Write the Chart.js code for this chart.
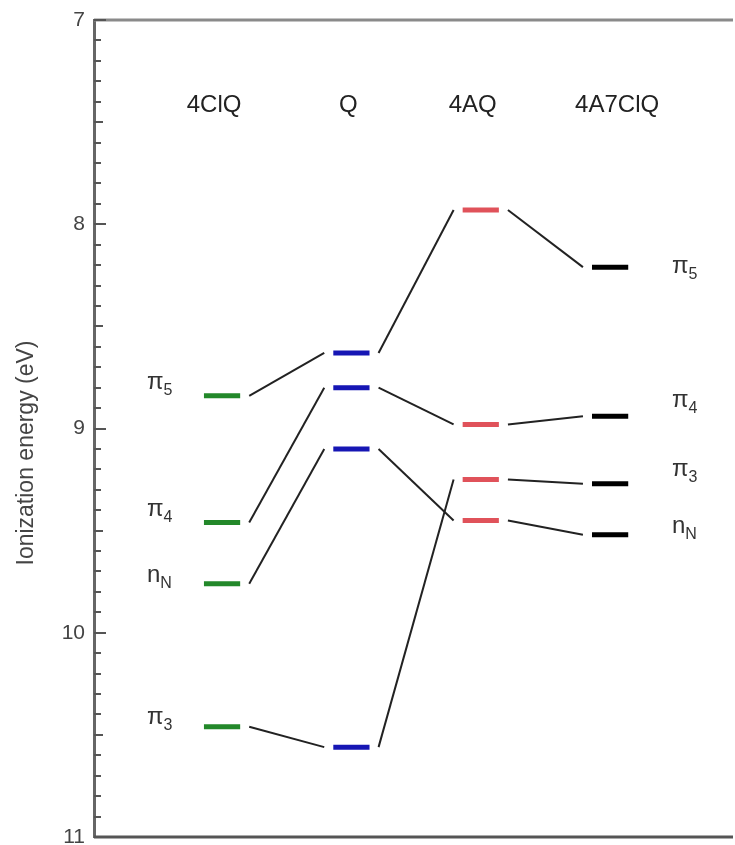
<!DOCTYPE html>
<html>
<head>
<meta charset="utf-8">
<script src="https://cdn.jsdelivr.net/npm/chart.js@4"></script>
<style>
  body { margin: 0; background: #fff; }
  canvas { display: block; }
</style>
</head>
<body>
<canvas id="grafico" width="735" height="845"></canvas>
<script>
// Moléculas (colunas) e energias dos orbitais (eV)
const moleculas = ['4ClQ', 'Q', '4AQ', '4A7ClQ'];
const energia4ClQ = [8.84, 9.46, 9.76, 10.46];
const energiaQ = [8.63, 8.80, 9.10, 10.56];
const energia4AQ = [7.93, 8.98, 9.25, 9.45];
const energia4A7ClQ = [8.21, 8.94, 9.27, 9.52];

// Correlações entre colunas vizinhas: [índice na coluna da esquerda, índice na da direita]
const ligacoes4ClQ_Q = [[0, 0], [1, 1], [2, 2], [3, 3]];
const ligacoesQ_4AQ = [[0, 0], [1, 1], [2, 3], [3, 2]];
const ligacoes4AQ_4A7ClQ = [[0, 0], [1, 1], [2, 2], [3, 3]];

// Rótulos dos orbitais (esquerda = 4ClQ, direita = 4A7ClQ)
const orbitaisEsquerda = ['π5', 'π4', 'nN', 'π3'];
const orbitaisDireita = ['π5', 'π4', 'π3', 'nN'];

// Ticks do eixo y
const yMin = 7;
const yMax = 11;
const tituloY = 'Ionization energy (eV)';

const cores = ['#23882a', '#1616b4', '#e0525a', '#000000'];
const energias = [energia4ClQ, energiaQ, energia4AQ, energia4A7ClQ];
const ligacoes = [ligacoes4ClQ_Q, ligacoesQ_4AQ, ligacoes4AQ_4A7ClQ];

const meiaLargura = 0.14;
const folga = 0.07;
const fonte = '"Liberation Sans", Arial, sans-serif';

let datasets = [];

// níveis de energia: um dataset por molécula, segmentos separados por null
energias.forEach((lista, i) => {
    let pontos = [];
    lista.forEach(v => {
        pontos.push({ x: i + 1 - meiaLargura, y: v });
        pontos.push({ x: i + 1 + meiaLargura, y: v });
        pontos.push({ x: i + 1, y: null });
    });
    datasets.push({
        label: moleculas[i],
        data: pontos,
        borderColor: cores[i],
        borderWidth: 5,
        pointRadius: 0,
        spanGaps: false
    });
});

// linhas de correlação
ligacoes.forEach((pares, i) => {
    pares.forEach(([a, b]) => {
        datasets.push({
            label: 'ligacao',
            data: [
                { x: i + 1 + meiaLargura + folga, y: energias[i][a] },
                { x: i + 2 - meiaLargura - folga, y: energias[i + 1][b] }
            ],
            borderColor: '#222',
            borderWidth: 2,
            pointRadius: 0
        });
    });
});

function desenhaOrbital(ctx, texto, x, y) {
    const base = texto[0];
    const sub = texto.slice(1);
    ctx.font = '24px ' + fonte;
    ctx.textAlign = 'left';
    ctx.textBaseline = 'middle';
    ctx.fillStyle = '#333';
    const w = ctx.measureText(base).width;
    ctx.fillText(base, x, y);
    ctx.font = '16px ' + fonte;
    ctx.fillText(sub, x + w, y + 8);
}

const extras = {
    id: 'extras',
    afterDraw(chart) {
        const ctx = chart.ctx;
        const area = chart.chartArea;
        const sx = chart.scales.x;
        const sy = chart.scales.y;
        ctx.save();

        // moldura superior e inferior
        ctx.lineWidth = 3;
        ctx.strokeStyle = '#8a8a8a';
        ctx.beginPath();
        ctx.moveTo(area.left, area.top);
        ctx.lineTo(area.right, area.top);
        ctx.stroke();
        ctx.strokeStyle = '#555';
        ctx.beginPath();
        ctx.moveTo(area.left, area.bottom);
        ctx.lineTo(area.right, area.bottom);
        ctx.stroke();

        // ticks internos no eixo y
        ctx.strokeStyle = '#555';
        ctx.lineWidth = 2;
        sy.ticks.forEach(t => {
            const d = Math.round(t.value * 10);
            let comp = 7;
            if (d % 10 === 0) comp = 12;
            else if (d % 5 === 0) comp = 9;
            const py = Math.round(sy.getPixelForValue(t.value));
            ctx.beginPath();
            ctx.moveTo(area.left, py);
            ctx.lineTo(area.left + comp, py);
            ctx.stroke();
        });

        // título do eixo y
        ctx.save();
        ctx.translate(27, 453);
        ctx.rotate(-Math.PI / 2);
        ctx.font = '23px ' + fonte;
        ctx.fillStyle = '#444';
        ctx.textAlign = 'center';
        ctx.textBaseline = 'middle';
        ctx.fillText(tituloY, 0, 0);
        ctx.restore();

        // nomes das moléculas
        const desloc = [-8, -3, -8, 7];
        ctx.font = '24px ' + fonte;
        ctx.fillStyle = '#222';
        ctx.textAlign = 'center';
        ctx.textBaseline = 'middle';
        moleculas.forEach((m, i) => {
            ctx.fillText(m, sx.getPixelForValue(i + 1) + desloc[i], 105);
        });

        // rótulos dos orbitais
        const dyEsq = [-13, -13, -8, -9];
        orbitaisEsquerda.forEach((o, i) => {
            desenhaOrbital(ctx, o, 147, sy.getPixelForValue(energia4ClQ[i]) + dyEsq[i]);
        });
        const dyDir = [-1, -16, -14, -8];
        orbitaisDireita.forEach((o, i) => {
            desenhaOrbital(ctx, o, 672, sy.getPixelForValue(energia4A7ClQ[i]) + dyDir[i]);
        });

        ctx.restore();
    }
};

new Chart(document.getElementById('grafico'), {
    type: 'line',
    data: { datasets: datasets },
    options: {
        responsive: false,
        animation: false,
        devicePixelRatio: 1,
        layout: { padding: { top: 20, bottom: 8, left: 0, right: 2 } },
        plugins: {
            legend: { display: false },
            tooltip: { enabled: false }
        },
        scales: {
            x: {
                type: 'linear',
                min: 0.01,
                max: 4.95,
                display: false
            },
            y: {
                type: 'linear',
                reverse: true,
                min: yMin,
                max: yMax,
                afterFit: s => {
                    s.width = 94;
                    s.paddingTop = 0;
                    s.paddingBottom = 0;
                },
                grid: { display: false, drawTicks: false },
                border: { display: true, color: '#666', width: 3 },
                ticks: {
                    stepSize: 0.1,
                    autoSkip: false,
                    padding: 9,
                    color: '#444',
                    font: { family: fonte, size: 21 },
                    callback: v => {
                        const r = Math.round(v * 10);
                        return r % 10 === 0 ? String(r / 10) : '';
                    }
                },
                title: { display: false }
            }
        }
    },
    plugins: [extras]
});
</script>
</body>
</html>
